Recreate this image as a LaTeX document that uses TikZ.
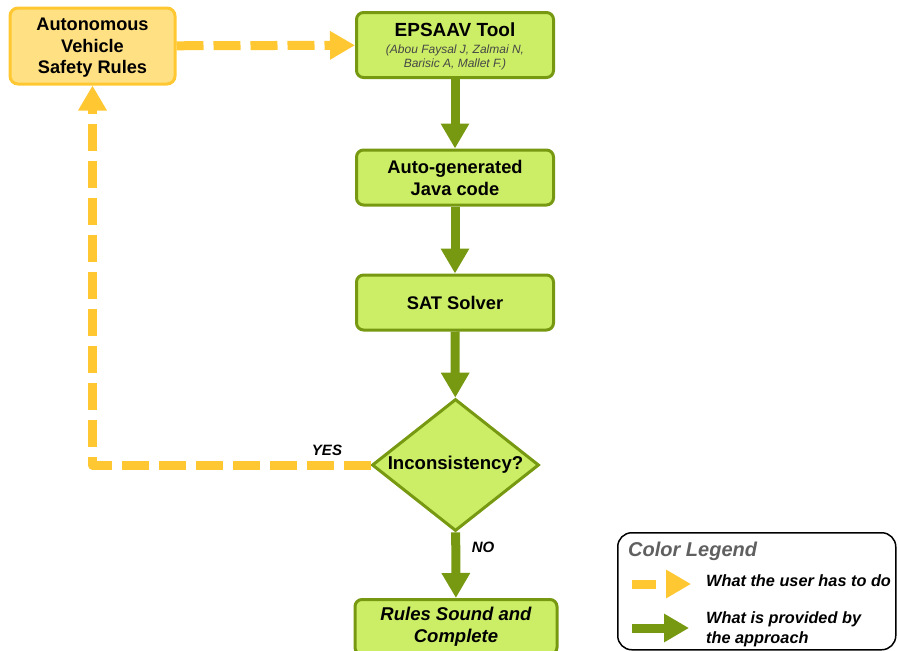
\documentclass[tikz,border=0pt]{standalone}
\usepackage{fontspec}
\setmainfont{Liberation Sans}
\usetikzlibrary{shapes.geometric, arrows.meta}

\definecolor{rulefill}{RGB}{255,224,130}
\definecolor{ruleline}{RGB}{255,200,50}
\definecolor{toolfill}{RGB}{204,238,102}
\definecolor{toolline}{RGB}{119,153,17}
\definecolor{legendgray}{RGB}{96,96,96}
\definecolor{authorgray}{RGB}{70,70,70}

\begin{document}
\begin{tikzpicture}[x=1pt, y=-1pt,
    % Define the styles for the boxes
    userbox/.style={draw=ruleline, fill=rulefill, line width=3pt, rounded corners=8pt,
        minimum width=165pt, minimum height=76pt, inner sep=0pt, align=center,
        font=\fontsize{18.2}{21.7}\selectfont\bfseries},
    toolbox/.style={draw=toolline, fill=toolfill, line width=3pt, rounded corners=7pt,
        minimum width=197pt, minimum height=55pt, inner sep=0pt, align=center,
        font=\fontsize{18.3}{22}\selectfont\bfseries},
    decision/.style={diamond, draw=toolline, fill=toolfill, line width=3pt, aspect=1.265,
        minimum width=167pt, minimum height=132pt, inner sep=0pt,
        font=\fontsize{18.6}{22}\selectfont\bfseries},
    % Define the styles for the arrows
    userarrow/.style={draw=ruleline, line width=9pt, dash pattern=on 27pt off 10pt,
        -{Triangle[width=27pt, length=25pt]}},
    toolarrow/.style={draw=toolline, line width=9pt, -{Triangle[width=27pt, length=25pt]}},
    tag/.style={font=\fontsize{15}{18}\selectfont\bfseries\itshape, inner sep=0pt},
    keytext/.style={font=\fontsize{16.3}{20}\selectfont\bfseries\itshape, inner sep=0pt}
]

% Fix the size of the picture
\clip (0,0) rectangle (898,651);

% Place the boxes of the flow
\node (safety) [userbox, text depth=0pt] at (92.5,46) {Autonomous\\Vehicle\\Safety Rules};
\node (epsaav) [toolbox, minimum height=65pt] at (455,45)
    {\rule{0pt}{17pt}{\fontsize{19}{22}\selectfont EPSAAV Tool}\\[-5pt]
    {\fontsize{12}{14}\selectfont\mdseries\itshape\color{authorgray}(Abou Faysal J, Zalmai N,}\\[-7.7pt]
    {\fontsize{12}{14}\selectfont\mdseries\itshape\color{authorgray}Barisic A, Mallet F.)}};
\node (javacode) [toolbox] at (455,177.5) {Auto-generated\\Java code};
\node (solver) [toolbox] at (455,302.5) {SAT Solver};
\node (check) [decision] at (455.5,465) {Inconsistency?};
\node (sound) [toolbox, minimum width=202pt, anchor=north, font=\fontsize{18.5}{22}\selectfont\bfseries\itshape]
    at (456,598) {Rules Sound and\\Complete};

% Draw the arrows between the boxes
\draw[userarrow] (safety) -- (epsaav);
\draw[toolarrow] (epsaav) -- (javacode);
\draw[toolarrow] (javacode) -- (solver);
\draw[toolarrow] (solver) -- (check);
\draw[toolarrow] (check) -- (sound);
\draw[userarrow, line join=round] (check.west) -| (safety.south);

% Add the answer labels
\node (yes) [tag] at (327,450) {YES};
\node (no) [tag] at (483,547) {NO};

% Draw the legend
\node (legend) [draw, line width=1.5pt, rounded corners=14pt, minimum width=278pt,
    minimum height=117pt, anchor=north west] at (617,532) {};
\node (legendtitle) [anchor=west, inner sep=0pt, text=legendgray,
    font=\fontsize{20}{24}\selectfont\bfseries\itshape] at (628,551) {Color Legend};
\coordinate (userstart) at (632,584);
\coordinate (userend) at (691,584);
\coordinate (toolstart) at (632,628);
\coordinate (toolend) at (689,628);
\draw[userarrow, dash pattern=on 24pt off 10pt] (userstart) -- (userend);
\draw[toolarrow] (toolstart) -- (toolend);
\node (usertext) [keytext, anchor=west] at (706,581) {What the user has to do};
\node (tooltext) [keytext, anchor=west, align=left] at (706,629) {What is provided by\\the approach};

\end{tikzpicture}
\end{document}
